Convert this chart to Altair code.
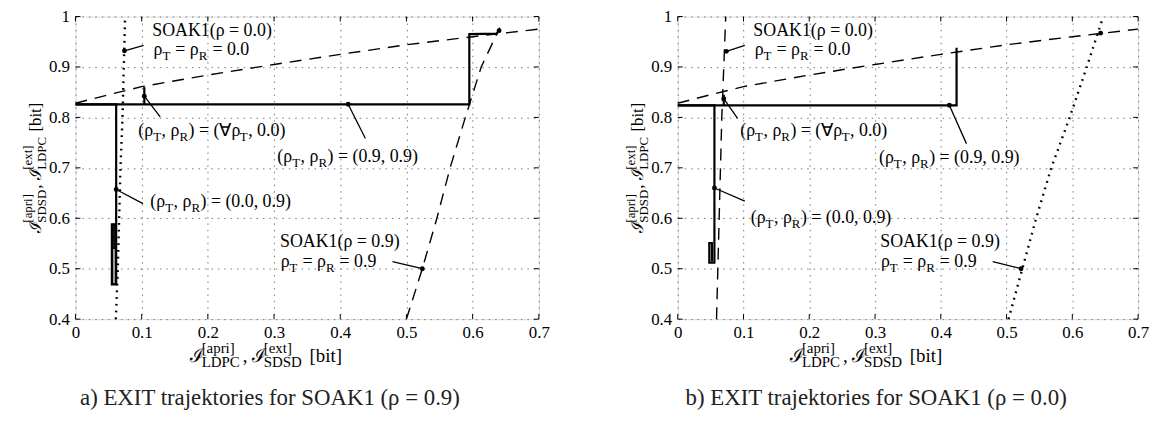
import altair as alt
import pandas as pd

# ---------------- data ----------------
X_TICKS = [0, 0.1, 0.2, 0.3, 0.4, 0.5, 0.6, 0.7]
Y_TICKS = [0.4, 0.5, 0.6, 0.7, 0.8, 0.9, 1.0]

# LDPC EXIT curve (dashed in both panels)
LDPC_X = [0.0, 0.05, 0.1, 0.2, 0.3, 0.4, 0.5, 0.6, 0.7]
LDPC_Y = [0.828, 0.845, 0.861, 0.884, 0.905, 0.925, 0.944, 0.960, 0.975]

# SOAK1(rho=0.0) SDSD curve
S00_Y = [0.4, 0.5, 0.6, 0.7, 0.8, 0.9, 1.0]
S00_A_X = [0.061, 0.064, 0.066, 0.068, 0.071, 0.073, 0.075]
S00_B_X = [0.059, 0.061, 0.063, 0.065, 0.067, 0.070, 0.073]

# SOAK1(rho=0.9) SDSD curve
S09_A_X = [0.500, 0.524, 0.546, 0.566, 0.589, 0.613, 0.641]
S09_A_Y = [0.4, 0.5, 0.6, 0.7, 0.8, 0.9, 0.978]
S09_B_X = [0.503, 0.524, 0.545, 0.568, 0.596, 0.622, 0.647]
S09_B_Y = [0.4, 0.5, 0.6, 0.7, 0.8, 0.9, 1.0]

# trajectories, panel a
TA_99_X = [0.0, 0.595, 0.595, 0.636, 0.641]
TA_99_Y = [0.826, 0.826, 0.965, 0.966, 0.974]
TA_09_X = [0.0, 0.0615, 0.0615, 0.055, 0.055, 0.0615]
TA_09_Y = [0.826, 0.826, 0.469, 0.469, 0.588, 0.588]
TA_A0_X = [0.104, 0.104]
TA_A0_Y = [0.826, 0.860]
# dense zig-zag block of trajectory (0.0, 0.9) in panel a
BOX_A_X1 = [0.0555, 0.0555]
BOX_A_X2 = [0.0610, 0.0610]
BOX_A_Y1 = [0.470, 0.540]
BOX_A_Y2 = [0.588, 0.588]
BOX_A_FILL = ["#9a9a9a", "#111111"]

# trajectories, panel b
TB_99_X = [0.0, 0.424, 0.424]
TB_99_Y = [0.824, 0.824, 0.938]
TB_09_X = [0.0, 0.0558, 0.0558, 0.048, 0.048, 0.052, 0.052]
TB_09_Y = [0.824, 0.824, 0.512, 0.512, 0.551, 0.551, 0.515]
TB_A0_X = [0.070, 0.070]
TB_A0_Y = [0.824, 0.845]

# marker points
MA_X = [0.074, 0.104, 0.412, 0.0615, 0.524, 0.640]
MA_Y = [0.932, 0.842, 0.826, 0.657, 0.500, 0.972]
MB_X = [0.074, 0.070, 0.413, 0.0558, 0.522, 0.643]
MB_Y = [0.931, 0.837, 0.824, 0.660, 0.500, 0.967]

# leader lines (from marker to label)
LA_X1 = [0.074, 0.104, 0.412, 0.0615, 0.524]
LA_Y1 = [0.932, 0.842, 0.826, 0.657, 0.500]
LA_X2 = [0.103, 0.128, 0.438, 0.102, 0.479]
LA_Y2 = [0.943, 0.801, 0.758, 0.629, 0.514]
LB_X1 = [0.074, 0.070, 0.413, 0.0558, 0.522]
LB_Y1 = [0.931, 0.837, 0.824, 0.660, 0.500]
LB_X2 = [0.102, 0.091, 0.439, 0.102, 0.479]
LB_Y2 = [0.943, 0.798, 0.748, 0.634, 0.514]

# annotation texts (segments: normal / subscript)
LABELS = [
    [("n", "SOAK1(ρ = 0.0)")],
    [("n", "ρ"), ("sub", "T"), ("n", " = ρ"), ("sub", "R"), ("n", " = 0.0")],
    [("n", "(ρ"), ("sub", "T"), ("n", ", ρ"), ("sub", "R"), ("n", ") = (∀ρ"), ("sub", "T"), ("n", ", 0.0)")],
    [("n", "(ρ"), ("sub", "T"), ("n", ", ρ"), ("sub", "R"), ("n", ") = (0.9, 0.9)")],
    [("n", "(ρ"), ("sub", "T"), ("n", ", ρ"), ("sub", "R"), ("n", ") = (0.0, 0.9)")],
    [("n", "SOAK1(ρ = 0.9)")],
    [("n", "ρ"), ("sub", "T"), ("n", " = ρ"), ("sub", "R"), ("n", " = 0.9")],
]
LAB_A_X = [0.116, 0.118, 0.095, 0.305, 0.113, 0.309, 0.310]
LAB_A_Y = [0.971, 0.933, 0.772, 0.722, 0.632, 0.552, 0.514]
LAB_B_X = [0.115, 0.117, 0.095, 0.306, 0.111, 0.308, 0.309]
LAB_B_Y = [0.971, 0.933, 0.772, 0.719, 0.601, 0.552, 0.514]

X_TITLE = [("n", "ℐ"), ("stack", ("[apri]", "LDPC")), ("n", ", ℐ"), ("stack", ("[ext]", "SDSD")), ("n", " [bit]")]
Y_TITLE = [("n", "ℐ"), ("stack", ("[apri]", "SDSD")), ("n", ", ℐ"), ("stack", ("[ext]", "LDPC")), ("n", " [bit]")]

CAPTIONS = ["a) EXIT trajektories for SOAK1 (ρ = 0.9)",
            "b) EXIT trajektories for SOAK1 (ρ = 0.0)"]

# ---------------- layout / style ----------------
W_A, W_B, H = 467, 464, 305
XD, YD = [0, 0.7], [0.4, 1.0]
FONT = "Liberation Serif"
MAIN, SMALL = 18, 13
SUB_OFF, SUP_OFF = 6.0, -7.5

EM = {"0": .5, "1": .5, "2": .5, "3": .5, "4": .5, "5": .5, "6": .5, "7": .5,
      "8": .5, "9": .5, ".": .25, ",": .25, " ": .25, "(": .333, ")": .333,
      "[": .333, "]": .333, "=": .564, "ρ": .5, "∀": .64, "ℐ": .62,
      "S": .556, "O": .722, "A": .722, "K": .722, "T": .611, "R": .667, "L": .611,
      "D": .722, "P": .556, "C": .667, "a": .444, "p": .5, "r": .333, "i": .278,
      "e": .444, "x": .5, "t": .278, "b": .5}


def tw(s, size):
    return sum(EM.get(c, 0.5) for c in s) * size


def layout(segs, main, small, gap=0.5):
    """returns list of (text, along_px, perp_px, size) and total width.
    Leading spaces are turned into offsets (SVG drops them)."""
    out, off = [], 0.0
    for kind, val in segs:
        if kind == "n":
            lead = len(val) - len(val.lstrip(" "))
            off += lead * EM[" "] * main
            t = val.lstrip(" ")
            out.append((t, off, 0.0, main))
            off += tw(t, main)
        elif kind == "sub":
            out.append((val, off, SUB_OFF, small))
            off += tw(val, small) + gap
        else:
            sup, sub = val
            out.append((sup, off, SUP_OFF, small))
            out.append((sub, off, SUB_OFF + 0.5, small))
            off += max(tw(sup, small), tw(sub, small)) + 2 * gap
    return out, off


def axis_common():
    return dict(title=None, grid=True, gridDash=[1.5, 5], gridColor="#777", gridWidth=1,
                ticks=False, domain=False, labelFont=FONT, labelFontSize=17,
                labelColor="black", labelPadding=6, format=".1~f")


def xs():
    return alt.X("x:Q", scale=alt.Scale(domain=XD, nice=False, zero=False),
                 axis=alt.Axis(values=X_TICKS, labelFlush=False, **axis_common()))


def ys():
    return alt.Y("y:Q", scale=alt.Scale(domain=YD, nice=False, zero=False),
                 axis=alt.Axis(values=Y_TICKS, **axis_common()))


def line_df(series):
    rows = []
    for name, xv, yv in series:
        for i, (x, y) in enumerate(zip(xv, yv)):
            rows.append({"s": name, "i": i, "x": x, "y": y})
    return pd.DataFrame(rows)


def panel(W, dashed, dotted, solid, boxes, mx, my, lx1, ly1, lx2, ly2,
          labx, laby, caption, xt_center, cap_center):
    ux, uy = 0.7 / W, 0.6 / H
    X, Y = xs(), ys()
    layers = []

    def lines(series, **kw):
        return alt.Chart(line_df(series)).mark_line(color="black", **kw).encode(
            x=X, y=Y, detail="s:N", order="i:Q")

    layers.append(lines(dashed, strokeDash=[12, 8], strokeWidth=1.4))
    layers.append(lines(dotted, strokeDash=[1.8, 5], strokeWidth=2.4))
    if boxes is not None:
        layers.append(alt.Chart(boxes).mark_rect(stroke="black", strokeWidth=1).encode(
            x=X, x2="x2:Q", y=Y, y2="y2:Q", color=alt.Color("f:N", scale=None)))
    layers.append(lines(solid, strokeWidth=2.2))

    lead = pd.DataFrame({"x": lx1, "y": ly1, "x2": lx2, "y2": ly2})
    layers.append(alt.Chart(lead).mark_rule(color="black", strokeWidth=1.3).encode(
        x=X, y=Y, x2="x2:Q", y2="y2:Q"))
    layers.append(alt.Chart(pd.DataFrame({"x": mx, "y": my})).mark_circle(
        color="black", size=24, opacity=1).encode(x=X, y=Y))

    # annotation texts
    rows = []
    for segs, x0, y0 in zip(LABELS, labx, laby):
        parts, _ = layout(segs, MAIN, SMALL)
        for t, along, perp, size in parts:
            rows.append({"x": x0 + along * ux, "y": y0 - perp * uy, "t": t, "z": size})
    # x-axis title
    parts, total = layout(X_TITLE, 19, 15, gap=1.5)
    x0 = (xt_center - total / 2) * ux
    yb = 0.4 - 37 * uy
    for t, along, perp, size in parts:
        rows.append({"x": x0 + along * ux, "y": yb - perp * uy, "t": t, "z": size})
    layers.append(alt.Chart(pd.DataFrame(rows)).mark_text(
        align="left", baseline="middle", font=FONT, color="black").encode(
        x=X, y=Y, text="t:N", size=alt.Size("z:Q", scale=None)))

    # y-axis title (rotated)
    rows = []
    parts, total = layout(Y_TITLE, 17, 13)
    xb = -40 * ux
    y0 = 0.7 - (total / 2) * uy
    for t, along, perp, size in parts:
        rows.append({"x": xb + perp * ux, "y": y0 + along * uy, "t": t, "z": size})
    layers.append(alt.Chart(pd.DataFrame(rows)).mark_text(
        align="left", baseline="middle", font=FONT, color="black", angle=270).encode(
        x=X, y=Y, text="t:N", size=alt.Size("z:Q", scale=None)))

    # inward ticks on all four sides
    tx = pd.DataFrame({"x": X_TICKS})
    ty = pd.DataFrame({"y": Y_TICKS})
    layers.append(alt.Chart(tx).mark_rule(color="black", strokeWidth=1).encode(
        x=X, y=alt.value(H), y2=alt.value(H - 5)))
    layers.append(alt.Chart(tx).mark_rule(color="black", strokeWidth=1).encode(
        x=X, y=alt.value(0), y2=alt.value(5)))
    layers.append(alt.Chart(ty).mark_rule(color="black", strokeWidth=1).encode(
        y=Y, x=alt.value(0), x2=alt.value(5)))
    layers.append(alt.Chart(ty).mark_rule(color="black", strokeWidth=1).encode(
        y=Y, x=alt.value(W), x2=alt.value(W - 5)))

    # caption
    layers.append(alt.Chart(pd.DataFrame({"t": [caption]})).mark_text(
        font="Liberation Serif", fontSize=23, color="#222", align="center",
        baseline="middle").encode(x=alt.value(cap_center), y=alt.value(385), text="t:N"))

    return alt.layer(*layers).properties(width=W, height=H)


boxes_a = pd.DataFrame({"x": BOX_A_X1, "x2": BOX_A_X2, "y": BOX_A_Y1, "y2": BOX_A_Y2, "f": BOX_A_FILL})

pa = panel(W_A,
           dashed=[("ldpc", LDPC_X, LDPC_Y), ("s09", S09_A_X, S09_A_Y)],
           dotted=[("s00", S00_A_X, S00_Y)],
           solid=[("t99", TA_99_X, TA_99_Y), ("t09", TA_09_X, TA_09_Y), ("ta0", TA_A0_X, TA_A0_Y)],
           boxes=boxes_a, mx=MA_X, my=MA_Y,
           lx1=LA_X1, ly1=LA_Y1, lx2=LA_X2, ly2=LA_Y2,
           labx=LAB_A_X, laby=LAB_A_Y, caption=CAPTIONS[0],
           xt_center=192, cap_center=196)

pb = panel(W_B,
           dashed=[("ldpc", LDPC_X, LDPC_Y), ("s00", S00_B_X, S00_Y)],
           dotted=[("s09", S09_B_X, S09_B_Y)],
           solid=[("t99", TB_99_X, TB_99_Y), ("t09", TB_09_X, TB_09_Y), ("tb0", TB_A0_X, TB_A0_Y)],
           boxes=None, mx=MB_X, my=MB_Y,
           lx1=LB_X1, ly1=LB_Y1, lx2=LB_X2, ly2=LB_Y2,
           labx=LAB_B_X, laby=LAB_B_Y, caption=CAPTIONS[1],
           xt_center=190, cap_center=200)

chart = alt.hconcat(pa, pb, spacing=74).properties(
    padding={"left": 14, "top": -3, "right": 0, "bottom": 0}
).configure_view(stroke="black", strokeWidth=1.2).configure(background="white")

chart.save("out.html", embed_options={"renderer": "svg", "actions": False})
